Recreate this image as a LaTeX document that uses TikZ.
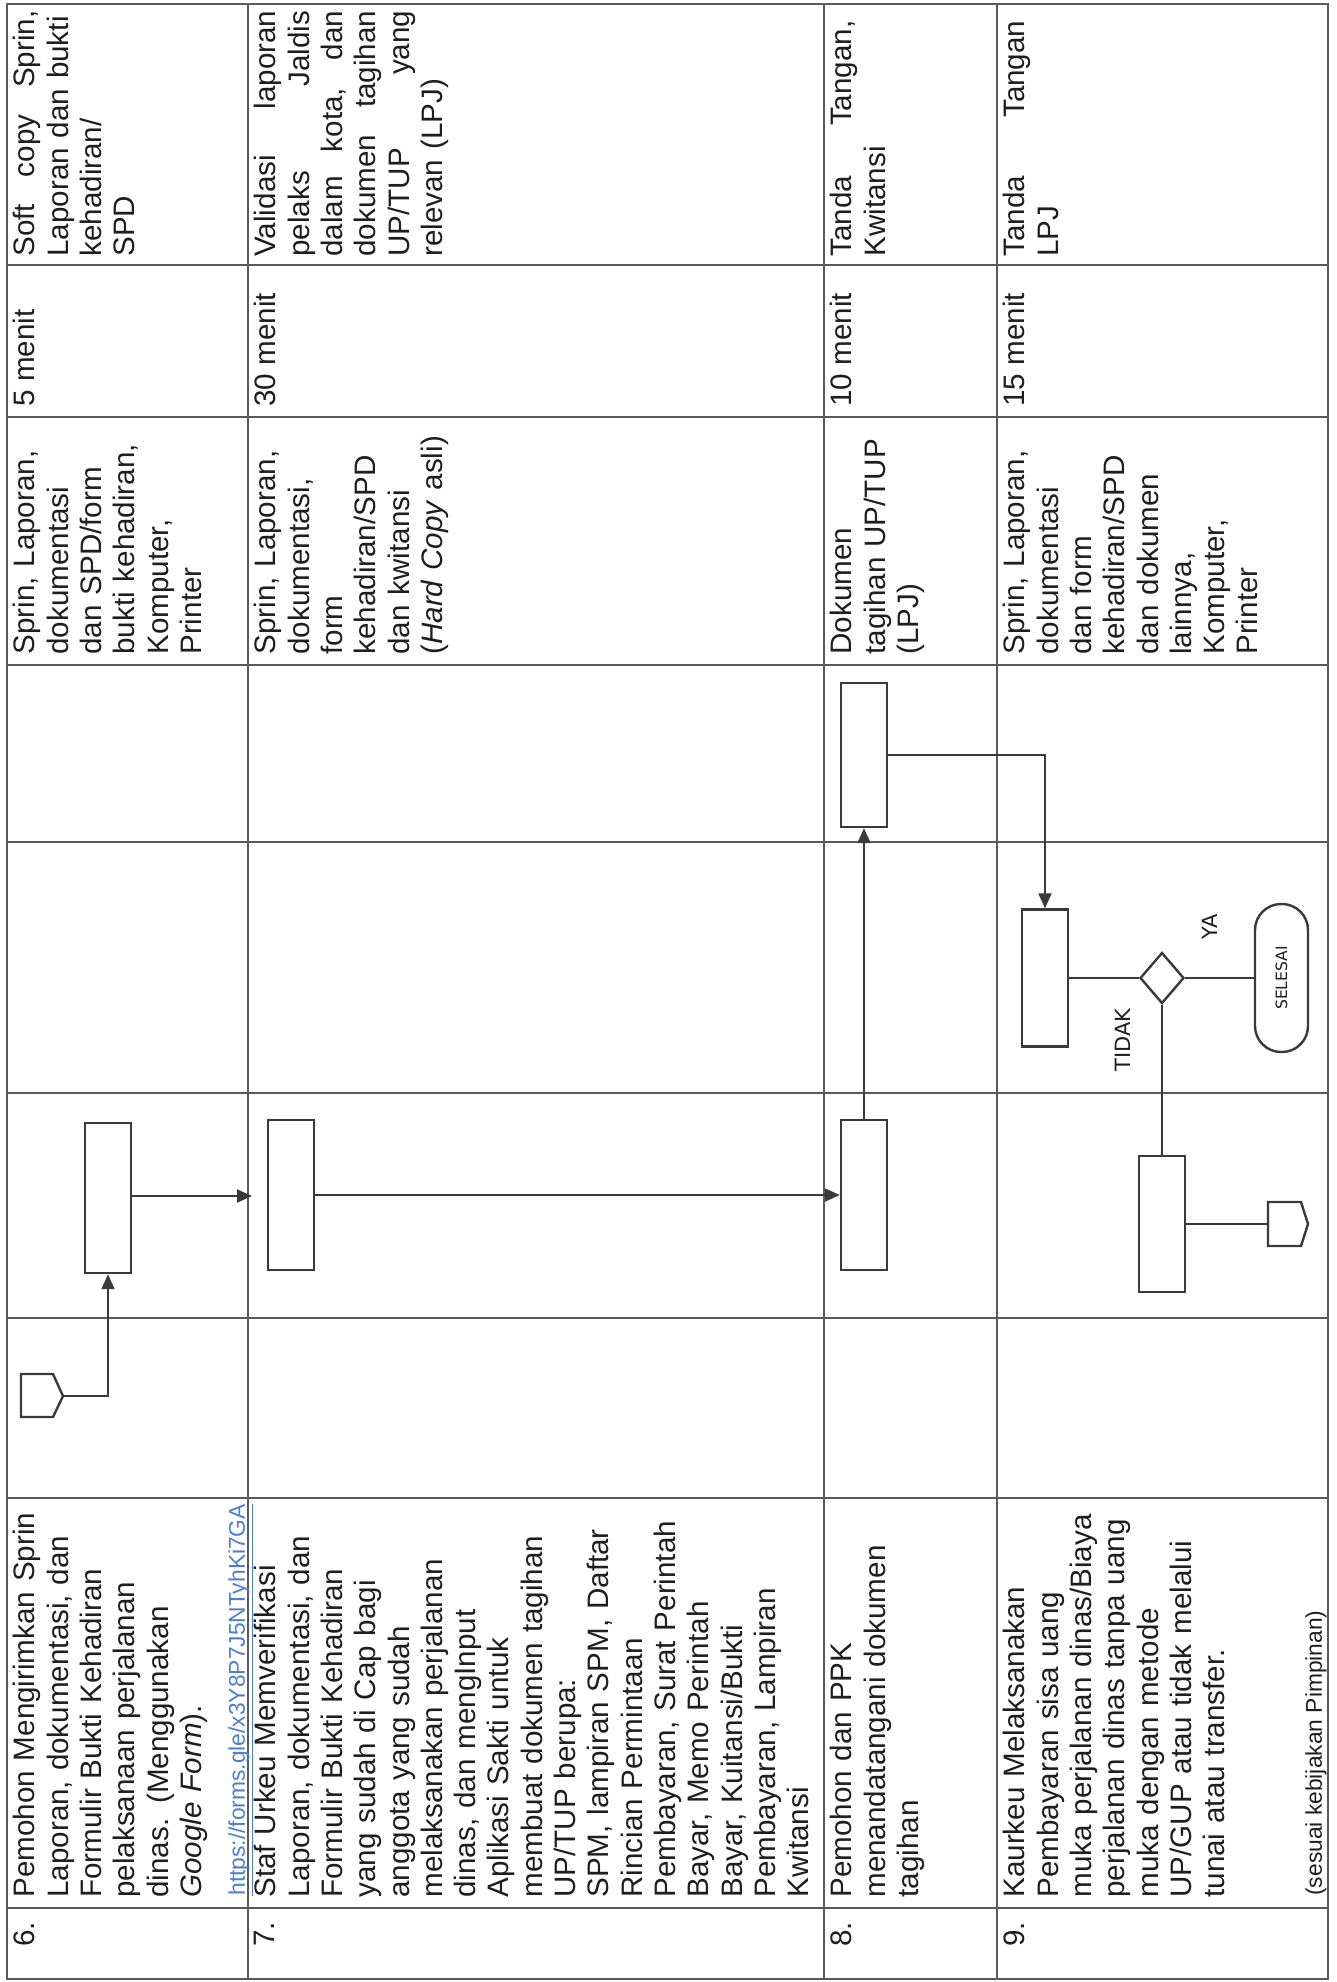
\documentclass[tikz,border=0pt]{standalone}
\usepackage{fontspec}
\setmainfont{Liberation Sans}
\newfontfamily\labelfont{DejaVu Sans}
\usetikzlibrary{arrows.meta,shapes.geometric}
\definecolor{ink}{HTML}{1E1E1E}
\definecolor{rulegray}{HTML}{5A5A5A}
\definecolor{shapegray}{HTML}{3A3A3A}
\definecolor{linkblue}{HTML}{4A7FD4}
\newcommand\bodysize{\fontsize{14.8}{16.65}\selectfont}
\newcommand\notesize{\fontsize{11.4}{13}\selectfont}
% a fully justified line of the given width inside a cell
\newcommand\jl[2][123pt]{{\spaceskip=0pt\xspaceskip=0pt\makebox[#1][s]{#2}}}
\tikzset{
  gridline/.style={draw=rulegray, line width=0.6pt},
  cell/.style={rotate=90, anchor=north west, inner sep=0pt, text=ink, font=\bodysize},
  procbox/.style={draw=shapegray, line width=1.2pt, fill=white, minimum width=23pt, inner sep=0pt},
  flow/.style={draw=shapegray, line width=1pt},
  arrowflow/.style={flow, -{Triangle[length=7.5pt,width=6.5pt]}},
  decision/.style={diamond, draw=shapegray, line width=1.2pt, fill=white, inner sep=0pt, minimum width=22pt, minimum height=25.5pt},
  terminal/.style={draw=shapegray, line width=1.2pt, fill=white, rounded corners=13pt, rotate=90, inner sep=0pt,
                   minimum width=74pt, minimum height=26.5pt, text=ink, font=\labelfont\fontsize{7.8}{9}\selectfont},
  tag/.style={rotate=90, inner sep=0pt, text=ink, font=\labelfont\fontsize{10.5}{12}\selectfont},
  offpage/.style={draw=shapegray, line width=1.2pt, fill=white},
}
\begin{document}
\begin{tikzpicture}[x=0.5pt,y=-0.5pt]
\useasboundingbox (0,0) rectangle (1337,1982);
\fill[white] (0,0) rectangle (1337,1982);

% ---------- table frame ----------
\draw[gridline] (7,4) rectangle (1328,1979);
\foreach \xx in {248,824,997} \draw[gridline] (\xx,4) -- (\xx,1979);
\foreach \yy in {265,417,665,842,1093,1318,1498,1908} \draw[gridline] (7,\yy) -- (1328,\yy);

% ---------- step numbers ----------
\node[cell] (n6) at (13,1947) {6.};
\node[cell] (n7) at (254,1947) {7.};
\node[cell] (n8) at (830,1947) {8.};
\node[cell] (n9) at (1003,1947) {9.};

% ---------- activities ----------
\node[cell, text width=200pt] (k6) at (13,1898) {Pemohon Mengirimkan Sprin\\
Laporan, dokumentasi, dan\\
Formulir Bukti Kehadiran\\
pelaksanaan perjalanan\\
dinas. (Menggunakan\\
\textit{Google Form}).};
\node[cell, font=\notesize, text=linkblue] (link6) at (228,1896) {\underline{https://forms.gle/x3Y8P7J5NTyhKi7GA}};

\node[cell, text width=200pt] (k7) at (254,1898) {Staf Urkeu Memverifikasi\\
Laporan, dokumentasi, dan\\
Formulir Bukti Kehadiran\\
yang sudah di Cap bagi\\
anggota yang sudah\\
melaksanakan perjalanan\\
dinas, dan mengInput\\
Aplikasi Sakti untuk\\
membuat dokumen tagihan\\
UP/TUP berupa:\\
SPM, lampiran SPM, Daftar\\
Rincian Permintaan\\
Pembayaran, Surat Perintah\\
Bayar, Memo Perintah\\
Bayar, Kuitansi/Bukti\\
Pembayaran, Lampiran\\
Kwitansi};

\node[cell, text width=200pt] (k8) at (830,1898) {Pemohon dan PPK\\
menandatangani dokumen\\
tagihan};

\node[cell, text width=200pt] (k9) at (1003,1898) {Kaurkeu Melaksanakan\\
Pembayaran sisa uang\\
muka perjalanan dinas/Biaya\\
perjalanan dinas tanpa uang\\
muka dengan metode\\
UP/GUP atau tidak melalui\\
tunai atau transfer.};
\node[cell, font=\notesize] (note9) at (1305,1896) {(sesuai kebijakan Pimpinan)};

% ---------- requirements ----------
\node[cell, text width=120pt] (q6) at (13,655) {Sprin, Laporan,\\
dokumentasi\\
dan SPD/form\\
bukti kehadiran,\\
Komputer,\\
Printer};
\node[cell, text width=120pt] (q7) at (254,655) {Sprin, Laporan,\\
dokumentasi,\\
form\\
kehadiran/SPD\\
dan kwitansi\\
(\textit{Hard Copy} asli)};
\node[cell, text width=120pt] (q8) at (830,655) {Dokumen\\
tagihan UP/TUP\\
(LPJ)};
\node[cell, text width=120pt] (q9) at (1003,655) {Sprin, Laporan,\\
dokumentasi\\
dan form\\
kehadiran/SPD\\
dan dokumen\\
lainnya,\\
Komputer,\\
Printer};

% ---------- time ----------
\node[cell] (t6) at (13,407) {5 menit};
\node[cell] (t7) at (254,407) {30 menit};
\node[cell] (t8) at (830,407) {10 menit};
\node[cell] (t9) at (1003,407) {15 menit};

% ---------- output ----------
\node[cell, text width=125pt] (o6) at (13,257) {\jl{Soft copy Sprin,}\\
Laporan dan bukti\\
kehadiran/\\
SPD};
\node[cell, text width=125pt] (o7) at (254,257) {\jl{Validasi laporan}\\
\jl{pelaks Jaldis}\\
\jl{dalam kota, dan}\\
\jl{dokumen tagihan}\\
\jl{UP/TUP yang}\\
relevan (LPJ)};
\node[cell, text width=125pt] (o8) at (830,257) {\jl[118pt]{Tanda Tangan,}\\
Kwitansi};
\node[cell, text width=125pt] (o9) at (1003,257) {\jl[118pt]{Tanda Tangan}\\
LPJ};

% ---------- flow: step 6 ----------
\draw[offpage] (21,1374) -- (53,1374) -- (63,1396) -- (53,1417) -- (21,1417) -- cycle;
\coordinate (a6tip) at (63,1396);
\node[procbox, minimum height=75pt] (b6) at (108,1198) {};
\coordinate (b7entry) at (252,1196);
\draw[arrowflow] (a6tip) -| (b6.south);
\draw[arrowflow] (b6.east |- b7entry) -- (b7entry);

% ---------- flow: step 7 ----------
\node[procbox, minimum height=75pt] (b7) at (291,1195) {};
\node[procbox, minimum height=75pt] (b8a) at (864,1195) {};
\draw[arrowflow] (b7.east) -- (b8a.west);

% ---------- flow: step 8 ----------
\node[procbox, minimum height=72pt] (b8b) at (864,755) {};
\draw[arrowflow] (b8a.north) -- (b8b.south);
\node[procbox, minimum height=68.5pt] (b9a) at (1045,978) {};
\draw[arrowflow] (b8b.east) -| (b9a.north);

% ---------- flow: step 9 ----------
\node[decision] (dec) at (1162,978) {};
\node[terminal] (done) at (1281.5,978) {SELESAI};
\node[procbox, minimum height=68pt] (b9b) at (1162,1224) {};
\draw[flow] (b9a.east) -- (dec.west);
\draw[flow] (dec.east) -- (done.north);
\draw[flow] (dec.south) -- (b9b.north);
\draw[offpage] (1268,1202) -- (1301,1202) -- (1308,1224) -- (1301,1246) -- (1268,1246) -- cycle;
\coordinate (c9in) at (1268,1224);
\draw[flow] (b9b.east) -- (c9in);
\node[tag] (ya) at (1210,927) {YA};
\node[tag] (tidak) at (1123,1040) {TIDAK};
\end{tikzpicture}
\end{document}
